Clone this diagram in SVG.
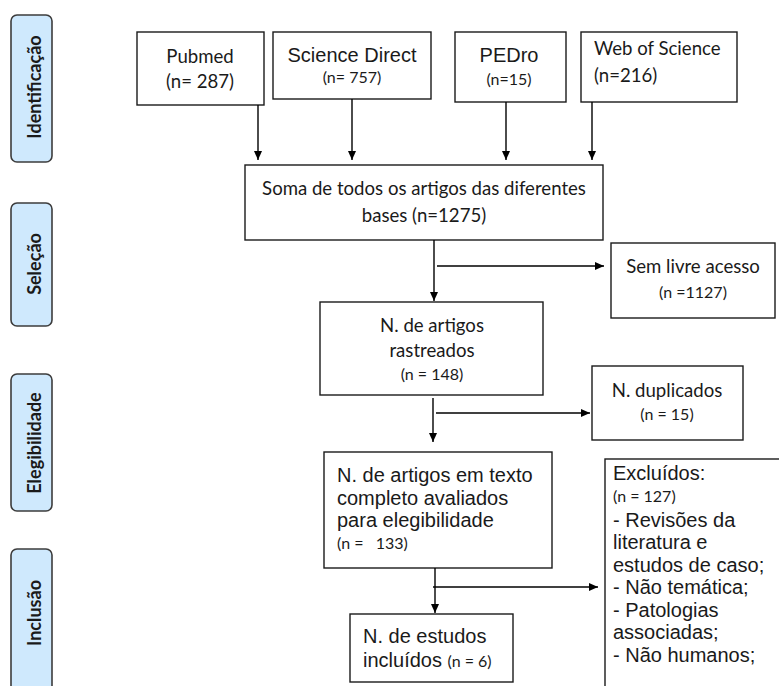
<svg xmlns="http://www.w3.org/2000/svg" width="779" height="686" viewBox="0 0 779 686">
<defs>
<marker id="ah" markerWidth="9" markerHeight="8" refX="9" refY="4" orient="auto" markerUnits="userSpaceOnUse">
<path d="M0,0 L9,4 L0,8 z" fill="#000"/>
</marker>
<style>
.phase rect{fill:#cfe9fd;stroke:#3c3c3c;stroke-width:1.6}
.phase text{font-family:Lato,"Open Sans",sans-serif;font-weight:bold;font-size:18px;fill:#1a1a1a;text-anchor:middle}
.box rect{fill:#fff;stroke:#1a1a1a;stroke-width:1.4}
.c{font-family:Lato,"Noto Sans",sans-serif;font-size:18.6px;fill:#1a1a1a}
.cs{font-family:Lato,"Noto Sans",sans-serif;font-size:16px;fill:#1a1a1a}
.a{font-family:"Liberation Sans",Arial,sans-serif;font-size:20px;fill:#1a1a1a}
.mid{text-anchor:middle}
#connectors line{stroke:#000;stroke-width:1.4;fill:none}
</style>
</defs>
<rect width="779" height="686" fill="#fff"/>

<g id="phase-identificacao" class="phase"><rect x="11" y="15" width="41" height="147" rx="6"/><text x="41" y="87" transform="rotate(-90 41 87)">Identificação</text></g>
<g id="phase-selecao" class="phase"><rect x="11" y="203" width="41" height="123" rx="6"/><text x="41" y="264" transform="rotate(-90 41 264)">Seleção</text></g>
<g id="phase-elegibilidade" class="phase"><rect x="11" y="374" width="41" height="137" rx="6"/><text x="41" y="443" transform="rotate(-90 41 443)">Elegibilidade</text></g>
<g id="phase-inclusao" class="phase"><rect x="11" y="549" width="41" height="150" rx="6"/><text x="41" y="613" transform="rotate(-90 41 613)">Inclusão</text></g>

<g id="pubmed" class="box"><rect x="137" y="32" width="127" height="73"/><text class="c mid" x="200" y="63">Pubmed</text><text class="c mid" x="200" y="88">(n= 287)</text></g>
<g id="science-direct" class="box"><rect x="273" y="32" width="158" height="67"/><text class="a mid" x="352" y="62">Science Direct</text><text class="cs mid" x="352" y="83">(n= 757)</text></g>
<g id="pedro" class="box"><rect x="455" y="32" width="111" height="70"/><text class="a mid" x="509" y="62">PEDro</text><text class="cs mid" x="509" y="85">(n=15)</text></g>
<g id="web-of-science" class="box"><rect x="581" y="32" width="156" height="70"/><text class="c" x="594" y="55">Web of Science</text><text class="c" x="594" y="82">(n=216)</text></g>

<g id="soma" class="box"><rect x="245" y="165" width="358" height="75"/><text class="c mid" x="424" y="195">Soma de todos os artigos das diferentes</text><text class="c mid" x="424" y="222">bases (n=1275)</text></g>
<g id="sem-livre-acesso" class="box"><rect x="611" y="243" width="164" height="75"/><text class="c mid" x="693" y="273">Sem livre acesso</text><text class="cs mid" x="693" y="298">(n =1127)</text></g>
<g id="rastreados" class="box"><rect x="320" y="302" width="223" height="93"/><text class="c mid" x="432" y="332">N. de artigos</text><text class="c mid" x="432" y="357">rastreados</text><text class="cs mid" x="432" y="380">(n = 148)</text></g>
<g id="duplicados" class="box"><rect x="592" y="366" width="151" height="74"/><text class="c mid" x="667" y="397">N. duplicados</text><text class="cs mid" x="667" y="420">(n = 15)</text></g>
<g id="texto-completo" class="box"><rect x="324" y="452" width="228" height="116"/><text class="a" x="337" y="482">N. de artigos em texto</text><text class="a" x="337" y="505">completo avaliados</text><text class="a" x="337" y="527">para elegibilidade</text><text class="cs" x="337" y="549" xml:space="preserve">(n =   133)</text></g>
<g id="excluidos" class="box"><rect x="605" y="459" width="190" height="240"/><text class="a" x="613" y="480">Excluídos:</text><text class="cs" x="613" y="502">(n = 127)</text><text class="a" x="613" y="527">- Revisões da</text><text class="a" x="613" y="549">literatura e</text><text class="a" x="613" y="572">estudos de caso;</text><text class="a" x="613" y="594">- Não temática;</text><text class="a" x="613" y="617">- Patologias</text><text class="a" x="613" y="639">associadas;</text><text class="a" x="613" y="662">- Não humanos;</text></g>
<g id="incluidos" class="box"><rect x="350" y="614" width="163" height="68"/><text class="a" x="363" y="643">N. de estudos</text><text x="363" y="667"><tspan class="a">incluídos </tspan><tspan class="cs">(n = 6)</tspan></text></g>

<g id="connectors">
<line x1="258" y1="105" x2="258" y2="160" marker-end="url(#ah)"/>
<line x1="352" y1="99" x2="352" y2="160" marker-end="url(#ah)"/>
<line x1="506" y1="102" x2="506" y2="160" marker-end="url(#ah)"/>
<line x1="592" y1="102" x2="592" y2="160" marker-end="url(#ah)"/>
<line x1="434" y1="240" x2="434" y2="301" marker-end="url(#ah)"/>
<line x1="437" y1="266" x2="604" y2="266" marker-end="url(#ah)"/>
<line x1="433" y1="398" x2="433" y2="442" marker-end="url(#ah)"/>
<line x1="436" y1="413" x2="590" y2="413" marker-end="url(#ah)"/>
<line x1="435" y1="568" x2="435" y2="613" marker-end="url(#ah)"/>
<line x1="433" y1="587" x2="598" y2="587" marker-end="url(#ah)"/>
</g>
</svg>
